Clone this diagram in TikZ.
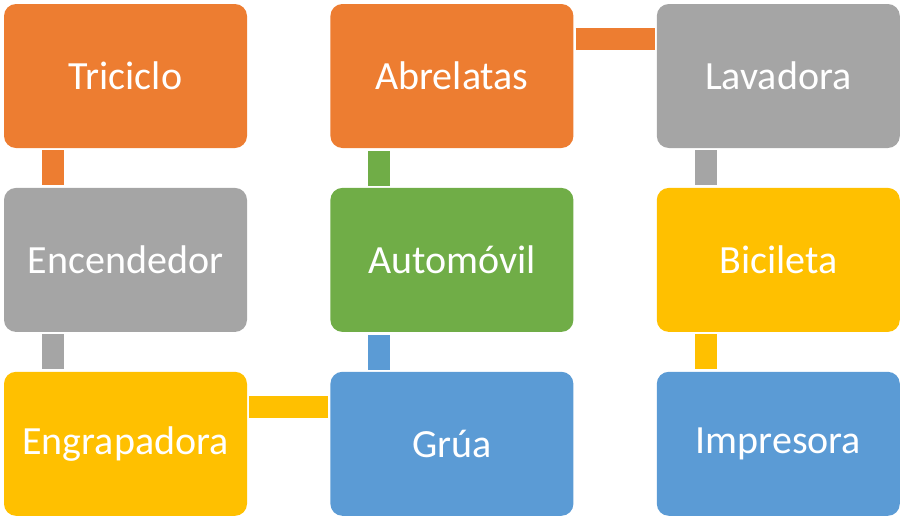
\documentclass[tikz,border=0pt]{standalone}
\usepackage{fontspec}
\setmainfont{Carlito}
\usepackage{xcolor}
\usepackage{tikz}
\usetikzlibrary{positioning}
\definecolor{accorange}{HTML}{ED7D31}
\definecolor{accgray}{HTML}{A5A5A5}
\definecolor{accgreen}{HTML}{70AD47}
\definecolor{accyellow}{HTML}{FFC000}
\definecolor{accblue}{HTML}{5B9BD5}
\tikzset{
  item/.style={fill=#1, draw=none, rounded corners=12pt, minimum width=243pt,
    minimum height=144pt, inner sep=0pt, text=white,
    font=\fontsize{40}{48}\selectfont},
  link/.style={draw=#1, line width=22pt, line cap=butt},
}
\begin{document}
\begin{tikzpicture}[x=1pt,y=-1pt]
  \useasboundingbox (0,0) rectangle (901,520);

  % first column, top to bottom
  \node[item=accorange] (tri) at (125.5,76) {Triciclo};
  \node[item=accgray,below=39.5pt of tri] (enc) {Encendedor};
  \node[item=accyellow,below=39.5pt of enc] (eng) {Engrapadora};
  % second column, bottom to top
  \node[item=accblue,right=83pt of eng] (gru) {Grúa};
  \node[item=accgreen,above=39.5pt of gru] (aut) {Automóvil};
  \node[item=accorange,above=39.5pt of aut] (abr) {Abrelatas};
  % third column, top to bottom
  \node[item=accgray,right=83pt of abr] (lav) {Lavadora};
  \node[item=accyellow,below=39.5pt of lav] (bic) {Bicileta};
  \node[item=accblue,below=39.5pt of bic] (imp) {Impresora};

  \draw[link=accorange] ([xshift=49pt,yshift=-2pt]tri.south west) -- ([xshift=49pt,yshift=3pt]enc.north west);
  \draw[link=accgray] ([xshift=49pt,yshift=-2pt]enc.south west) -- ([xshift=49pt,yshift=3pt]eng.north west);
  \draw[link=accyellow] ([xshift=2pt,yshift=-35pt]eng.north east) -- ([xshift=-2pt,yshift=-35pt]gru.north west);
  \draw[link=accblue] ([xshift=49pt,yshift=2pt]gru.north west) -- ([xshift=49pt,yshift=-3pt]aut.south west);
  \draw[link=accgreen] ([xshift=49pt,yshift=2pt]aut.north west) -- ([xshift=49pt,yshift=-3pt]abr.south west);
  \draw[link=accorange] ([xshift=2pt,yshift=-35pt]abr.north east) -- ([xshift=-2pt,yshift=-35pt]lav.north west);
  \draw[link=accgray] ([xshift=49pt,yshift=-2pt]lav.south west) -- ([xshift=49pt,yshift=3pt]bic.north west);
  \draw[link=accyellow] ([xshift=49pt,yshift=-2pt]bic.south west) -- ([xshift=49pt,yshift=3pt]imp.north west);
\end{tikzpicture}
\end{document}
